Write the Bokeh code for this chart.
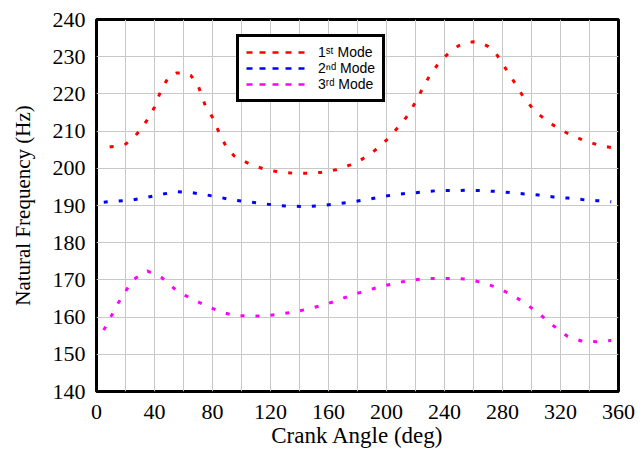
from bokeh.plotting import figure
from bokeh.models import Range1d, FixedTicker, Legend, LegendItem
from bokeh.embed import file_html
from bokeh.resources import INLINE

# ---- data ----
mode1_angle = list(range(5, 360, 5))
mode1_freq = [205.5, 205.8, 206.0, 206.5, 208.0, 210.2, 213.0, 216.4, 221.5, 224.6,
              225.6, 225.7, 225.0, 222.3, 216.9, 213.7, 209.2, 205.4, 203.3, 202.2,
              201.3, 200.5, 199.9, 199.4, 199.1, 198.9, 198.7, 198.7, 198.7, 198.8,
              198.9, 199.2, 199.6, 200.2, 200.9, 201.7, 202.9, 204.2, 205.8, 207.6,
              209.7, 211.9, 214.4, 217.8, 221.5, 225.1, 227.7, 229.9, 231.7, 233.0,
              233.8, 234.0, 233.7, 232.8, 231.2, 228.1, 225.1, 222.0, 218.8, 216.5,
              214.5, 213.0, 211.6, 210.4, 209.4, 208.5, 207.7, 207.0, 206.4, 205.9,
              205.6]

mode2_angle = list(range(5, 360, 10))
mode2_freq = [190.9, 191.2, 191.5, 192.2, 193.0, 193.7, 193.5, 192.9, 192.2, 191.4,
              191.0, 190.5, 190.0, 189.8, 189.7, 190.0, 190.4, 190.9, 191.5, 192.2,
              192.9, 193.3, 193.6, 194.0, 194.0, 194.1, 194.0, 193.8, 193.5, 193.1,
              192.8, 192.3, 192.0, 191.6, 191.3, 191.0]

mode3_angle = list(range(5, 360, 10))
mode3_freq = [156.5, 163.8, 170.0, 172.4, 170.6, 167.2, 165.0, 163.2, 161.5, 160.4,
              160.3, 160.3, 160.7, 161.3, 162.1, 163.1, 164.3, 165.8, 167.0, 168.1,
              169.0, 169.8, 170.3, 170.4, 170.4, 170.2, 169.4, 168.1, 166.3, 163.9,
              161.0, 157.7, 154.8, 153.5, 153.4, 153.7]

series_labels = ["1\u02e2\u1d57 Mode", "2\u207f\u1d48 Mode", "3\u02b3\u1d48 Mode"]
series_colors = ["#ff0000", "#0000ff", "#ff00ff"]

x_ticks = [0, 40, 80, 120, 160, 200, 240, 280, 320, 360]
x_grid = list(range(0, 361, 20))
y_ticks = [140, 150, 160, 170, 180, 190, 200, 210, 220, 230, 240]

# ---- figure ----
p = figure(width=643, height=450, output_backend="svg", toolbar_location=None,
           x_range=Range1d(0, 360), y_range=Range1d(140, 240),
           min_border_left=96, min_border_right=25, min_border_top=19,
           min_border_bottom=59)
p.background_fill_color = "white"
p.border_fill_color = "white"
p.outline_line_color = "black"
p.outline_line_width = 3
p.outline_line_alpha = 1

p.xaxis.ticker = FixedTicker(ticks=x_ticks)
p.yaxis.ticker = FixedTicker(ticks=y_ticks)
p.xgrid.ticker = FixedTicker(ticks=x_grid)
p.ygrid.ticker = FixedTicker(ticks=y_ticks)
for g in (p.xgrid, p.ygrid):
    g.grid_line_color = "#c8c8c8"
    g.grid_line_width = 1

for ax in (p.xaxis, p.yaxis):
    ax.axis_line_color = None
    ax.major_tick_out = 0
    ax.major_tick_in = 0
    ax.minor_tick_out = 0
    ax.minor_tick_in = 0
    ax.major_label_text_font = "Liberation Serif"
    ax.major_label_text_font_size = "22px"
    ax.major_label_text_color = "black"
    ax.axis_label_text_font = "Liberation Serif"
    ax.axis_label_text_font_style = "normal"
    ax.axis_label_text_color = "black"

p.xaxis.axis_label_text_font_size = "23px"
p.yaxis.axis_label_text_font_size = "21px"
p.xaxis.axis_label = "Crank Angle (deg)"
p.yaxis.axis_label = "Natural Frequency (Hz)"
p.xaxis.major_label_standoff = 13
p.yaxis.major_label_standoff = 11
p.xaxis.axis_label_standoff = 1
p.yaxis.axis_label_standoff = 15

# ---- curves ----
p.line(mode1_angle, mode1_freq, color=series_colors[0], line_width=3,
       line_dash="4 11", line_dash_offset=9)
p.line(mode2_angle, mode2_freq, color=series_colors[1], line_width=3,
       line_dash="4 11")
p.line(mode3_angle, mode3_freq, color=series_colors[2], line_width=3,
       line_dash="4 11")

# ---- legend (legend-only glyphs with the legend's dash pattern) ----
nan = float("nan")
items = []
for lab, col in zip(series_labels, series_colors):
    r = p.line(x=[nan, nan], y=[nan, nan], color=col, line_width=2.5,
               line_dash="6 7")
    items.append(LegendItem(label=lab, renderers=[r]))

legend = Legend(items=items, location=(140, 289))
legend.border_line_color = "black"
legend.border_line_alpha = 1
legend.border_line_width = 3
legend.background_fill_color = "white"
legend.background_fill_alpha = 1
legend.padding = 7
legend.spacing = 0
legend.margin = 0
legend.glyph_width = 63
legend.glyph_height = 16
legend.label_height = 16
legend.label_standoff = 9
legend.label_text_font = "Liberation Sans"
legend.label_text_font_size = "14px"
legend.label_text_color = "black"
p.add_layout(legend)

open("out.html", "w").write(file_html(p, INLINE))
